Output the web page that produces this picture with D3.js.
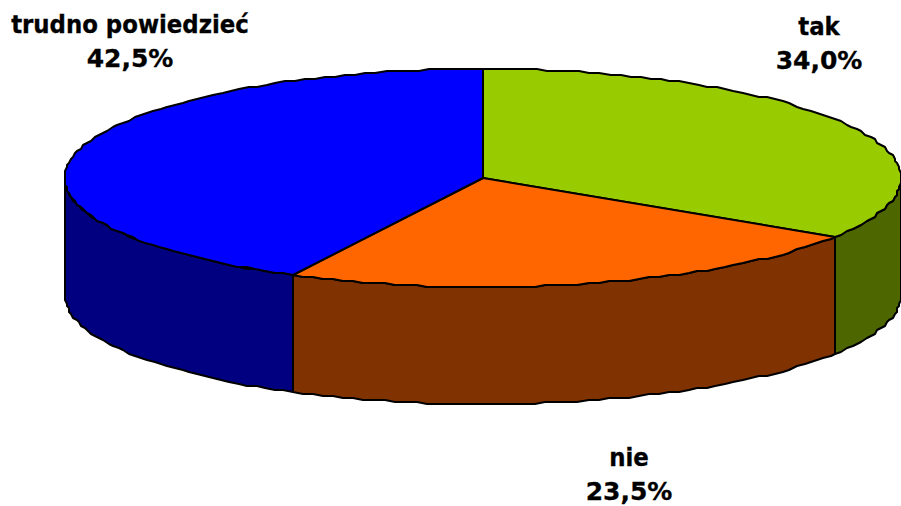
<!DOCTYPE html>
<html>
<head>
<meta charset="utf-8">
<script src="https://cdnjs.cloudflare.com/ajax/libs/d3/7.8.4/d3.min.js"></script>
<style>
html, body { margin: 0; padding: 0; background: #fff; }
svg { display: block; }
text { font-family: "DejaVu Sans Condensed", "DejaVu Sans", sans-serif; font-stretch: condensed; font-weight: bold; font-size: 25.4px; fill: #000; stroke: #000; stroke-width: 0.3px; }
.pct { font-family: "DejaVu Sans", sans-serif; font-stretch: normal; font-size: 25px; }
</style>
</head>
<body>
<div id="chart"></div>
<script>
const categories = ["tak", "nie", "trudno powiedzieć"];
const values = [34.0, 23.5, 42.5];
const topColors = ["#99cc00", "#ff6600", "#0000ff"];
const sideColors = ["#4d6600", "#803300", "#000080"];
// label anchor and first baseline
const labelPos = [[819, 35], [629, 466], [130, 33]];

const width = 901, height = 506;
const cx = 483, cy = 178, rx = 418, ry = 109, depth = 117;

const svg = d3.select("#chart").append("svg")
    .attr("width", width)
    .attr("height", height);

const arcs = d3.pie().sort(null).value(d => d)(values);

// the original outline is a rough polyline, so snap the samples to a coarse odd grid
const snap = v => Math.round((v - 1) / 2) * 2 + 1;
// tilted pie: angle is clockwise from the top
const px = a => snap(cx + rx * Math.sin(a));
const py = a => snap(cy - ry * Math.cos(a));
const sample = (a0, a1) => {
  const n = Math.ceil((a1 - a0) / 0.026);
  return d3.range(0, n + 1).map(i => a0 + (a1 - a0) * i / n);
};
const line = d3.line();

// sides first, only the front half of the ellipse shows
arcs.forEach((d, i) => {
  const a0 = Math.max(d.startAngle, Math.PI / 2);
  const a1 = Math.min(d.endAngle, Math.PI * 1.5);
  if (a1 <= a0) return;
  const front = sample(a0, a1).map(a => [px(a), py(a)]);
  const back = sample(a0, a1).reverse().map(a => [px(a), py(a) + depth]);
  svg.append("path")
      .attr("d", line(front.concat(back)) + "Z")
      .attr("fill", sideColors[i])
      .attr("stroke", "#000")
      .attr("stroke-width", 2)
      .attr("stroke-linejoin", "round");
});

arcs.forEach((d, i) => {
  const pts = [[cx, cy]].concat(sample(d.startAngle, d.endAngle).map(a => [px(a), py(a)]));
  svg.append("path")
      .attr("d", line(pts) + "Z")
      .attr("fill", topColors[i])
      .attr("stroke", "#000")
      .attr("stroke-width", 2)
      .attr("stroke-linejoin", "round");
});

categories.forEach((c, i) => {
  const t = svg.append("text")
      .attr("text-anchor", "middle")
      .attr("x", labelPos[i][0])
      .attr("y", labelPos[i][1]);
  t.append("tspan").attr("x", labelPos[i][0]).text(c);
  t.append("tspan").attr("class", "pct").attr("x", labelPos[i][0]).attr("dy", 34)
      .text(d3.format(".1f")(values[i]).replace(".", ",") + "%");
});
</script>
</body>
</html>
